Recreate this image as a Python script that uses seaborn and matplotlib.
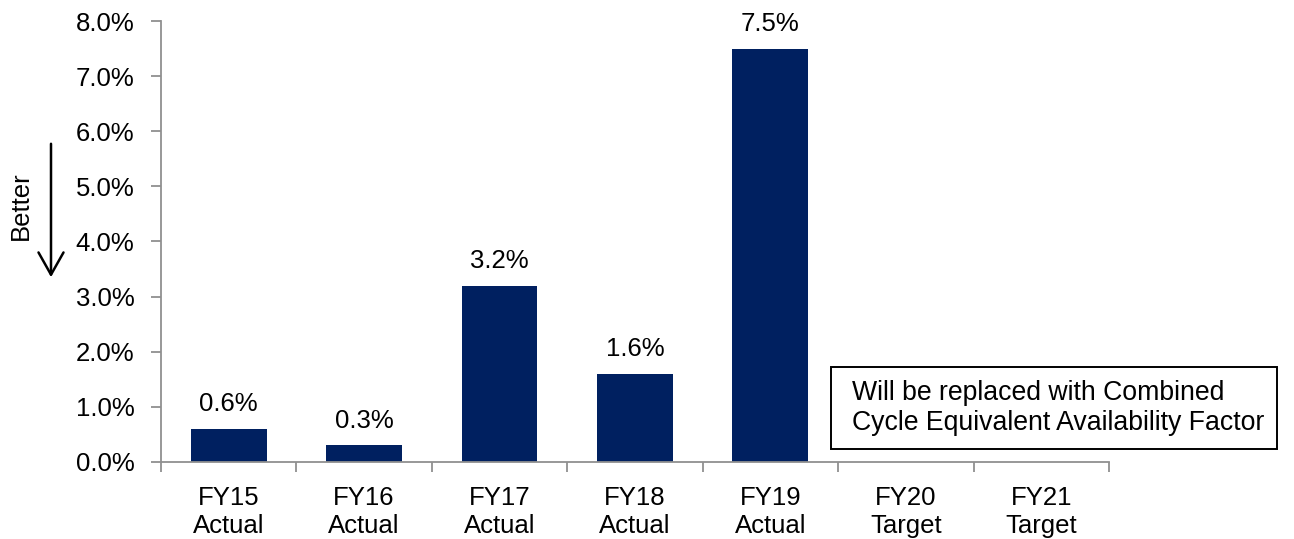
import matplotlib
matplotlib.use("Agg")
import matplotlib.pyplot as plt
import seaborn as sns
import pandas as pd
import numpy as np
from matplotlib.patches import FancyArrowPatch, Rectangle

categories = ["FY15\nActual", "FY16\nActual", "FY17\nActual", "FY18\nActual",
              "FY19\nActual", "FY20\nTarget", "FY21\nTarget"]
values = [0.6, 0.3, 3.2, 1.6, 7.5, np.nan, np.nan]
y_ticks = [0, 1, 2, 3, 4, 5, 6, 7, 8]

sns.set_theme(style="white")
plt.rcParams['font.family'] = ['Liberation Sans', 'DejaVu Sans']
plt.rcParams['text.color'] = 'black'
plt.rcParams['xtick.labelcolor'] = 'black'
plt.rcParams['ytick.labelcolor'] = 'black'

FS = 18.5

df = pd.DataFrame({"cat": categories, "val": values})

fig = plt.figure(figsize=(12.94, 5.39), dpi=100)
ax = fig.add_axes([0.1244, 0.1429, 0.7326, 0.8181])

sns.barplot(data=df, x="cat", y="val", color="#002060", saturation=1,
            width=0.56, ax=ax, order=categories, linewidth=0)

for i, v in enumerate(values):
    if not np.isnan(v):
        ax.text(i, v + 0.23, f"{v:.1f}%", ha="center", va="bottom", fontsize=FS, color="black")

ax.set_xlim(-0.5, 6.5)
ax.set_ylim(0, 8)
ax.set_yticks(y_ticks)
ax.set_yticklabels([f"{t:.1f}%" for t in y_ticks], fontsize=FS, color="black")
ax.set_xticks(np.arange(-0.5, 7, 1.0))
ax.set_xticklabels([])
ax.set_xticks(np.arange(0, 7), minor=True)
ax.set_xticklabels(categories, minor=True, fontsize=FS, linespacing=1.25, color="black")
ax.tick_params(axis="x", which="minor", length=0, pad=17)
ax.tick_params(axis="x", which="major", length=7, width=1.3, color="#909090", direction="out", bottom=True)
ax.tick_params(axis="y", length=7, width=1.3, color="#909090", direction="out", left=True, pad=12)
ax.set_xlabel("")
ax.set_ylabel("")

for s in ["top", "right"]:
    ax.spines[s].set_visible(False)
for s in ["left", "bottom"]:
    ax.spines[s].set_color("#909090")
    ax.spines[s].set_linewidth(1.3)

# "Better" label with down arrow
fig.text(21 / 1294, 1 - 206 / 539, "Better", rotation=90, ha="center", va="center", fontsize=FS)
arrow = FancyArrowPatch((51 / 1294, 1 - 141 / 539), (51 / 1294, 1 - 280 / 539),
                        transform=fig.transFigure, arrowstyle="->,head_length=0.8,head_width=0.45",
                        color="black", lw=1.8, mutation_scale=20)
fig.patches.append(arrow)

# Note box
box = Rectangle((831 / 1294, 1 - 449 / 539), (1277 - 831) / 1294, (449 - 367) / 539,
                transform=fig.transFigure, fill=False, ec="black", lw=1.4)
fig.patches.append(box)
fig.text(852 / 1294, 1 - 408 / 539,
         "Will be replaced with Combined\nCycle Equivalent Availability Factor",
         ha="left", va="center", fontsize=19.2, linespacing=1.25)

fig.savefig("out.png", dpi=100)
